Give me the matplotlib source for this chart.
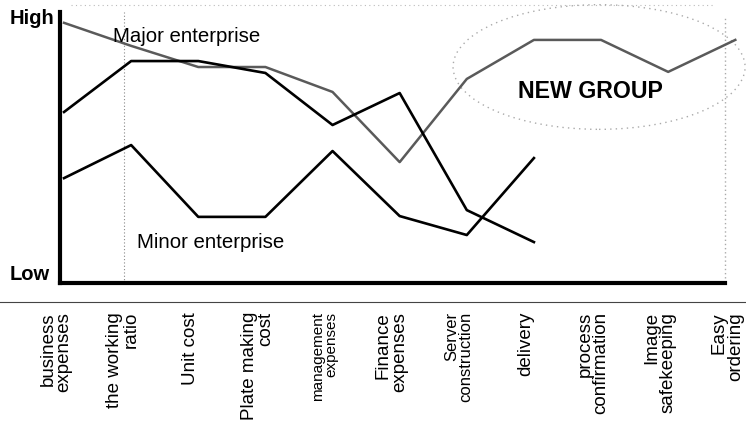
import matplotlib.pyplot as plt
from matplotlib.patches import Ellipse
from matplotlib.lines import Line2D

plt.rcParams['font.family'] = ['Liberation Sans', 'DejaVu Sans']

categories = ["business\nexpenses", "the working\nratio", "Unit cost", "Plate making\ncost",
              "management\nexpenses", "Finance\nexpenses", "Server\nconstruction", "delivery",
              "process\nconfirmation", "Image\nsafekeeping", "Easy\nordering"]
label_sizes = [13.5, 13.5, 13.5, 13.5, 11, 13.5, 12, 13.5, 13.5, 13.5, 13.5]

# gray line: major enterprise, continuing into the "new group" part
major = [96, 87.5, 79.7, 79.7, 70.5, 44.6, 75.3, 89.7, 89.7, 77.9, 89.7]
# upper black line
upper = [63.1, 81.9, 81.9, 77.5, 58.3, 70.1, 26.9, 15.1]
# lower black line: minor enterprise
minor = [38.7, 50.9, 24.4, 24.4, 48.7, 24.7, 17.7, 46.1]

fig = plt.figure(figsize=(7.46, 4.22), dpi=100)
ax = fig.add_axes([60 / 746, (422 - 283) / 422, 680 / 746, 271 / 422])

ax.plot(range(len(major)), major, color='#5a5a5a', lw=1.8, clip_on=False, zorder=3)
ax.plot(range(len(upper)), upper, color='black', lw=1.9, clip_on=False, zorder=3)
ax.plot(range(len(minor)), minor, color='black', lw=1.9, clip_on=False, zorder=3)

ax.set_xlim(-0.06, 10.07)
ax.set_ylim(0, 100)

# faint dotted guides
ax.plot([0.9, 0.9], [0, 100], color='#888888', lw=0.8, ls=(0, (1, 2)), zorder=1)
ax.plot([9.85, 9.85], [2, 98], color='#aaaaaa', lw=1.0, ls=(0, (1, 2)), zorder=1)
ax.plot([0.1, 9.7], [102.5, 102.5], color='#bbbbbb', lw=0.8, ls=(0, (1, 3)),
        clip_on=False, zorder=1)
ax.add_patch(Ellipse((7.97, 79.7), 4.35, 46, fill=False, edgecolor='#aaaaaa',
                     lw=1.0, ls=(0, (1, 3)), clip_on=False, zorder=1))

ax.text(0.73, 90.8, "Major enterprise", fontsize=14.7, ha='left', va='center')
ax.text(1.09, 14.8, "Minor enterprise", fontsize=14.7, ha='left', va='center')
ax.text(6.77, 70.5, "NEW GROUP", fontsize=16.7, fontweight='bold', ha='left', va='center')

fig.text(10 / 746, (422 - 18) / 422, "High", fontsize=14.5, fontweight='bold',
         ha='left', va='center')
fig.text(10 / 746, (422 - 275) / 422, "Low", fontsize=14.5, fontweight='bold',
         ha='left', va='center')

for s in ['top', 'right']:
    ax.spines[s].set_visible(False)
ax.spines['left'].set_linewidth(3)
ax.spines['bottom'].set_linewidth(3)
ax.spines['bottom'].set_bounds(-0.06, 9.85)
ax.set_yticks([])
ax.set_xticks(range(len(categories)))
ax.set_xticklabels([])
ax.tick_params(axis='x', length=0)

for i, (lab, fs) in enumerate(zip(categories, label_sizes)):
    ax.annotate(lab, xy=(i, 0), xycoords=('data', 'axes fraction'),
                xytext=(-8, -29), textcoords='offset pixels',
                rotation=90, ha='center', va='top', multialignment='right',
                fontsize=fs, linespacing=0.95)

fig.add_artist(Line2D([0, 1], [(422 - 302) / 422] * 2, color='#444444', lw=0.8))

fig.savefig('out.png', dpi=100)
